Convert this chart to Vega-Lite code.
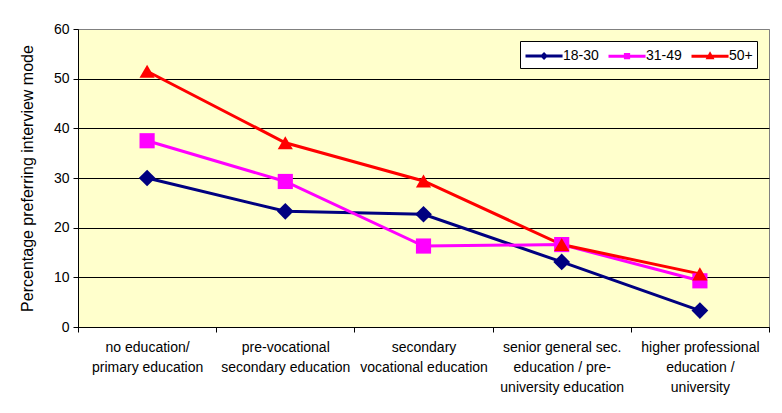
{
  "$schema": "https://vega.github.io/schema/vega-lite/v6.json",
  "width": 691,
  "height": 298,
  "autosize": {"type": "none"},
  "padding": {"left": 78, "top": 29, "right": 13, "bottom": 86},
  "background": "white",
  "config": {
    "font": "Liberation Sans",
    "view": {"fill": "#FFFFCC", "stroke": "#808080", "strokeWidth": 1},
    "axis": {
      "labelFont": "Liberation Sans",
      "titleFont": "Liberation Sans",
      "labelColor": "black",
      "titleColor": "black",
      "domainColor": "black",
      "tickColor": "black",
      "labelFontSize": 14,
      "titleFontSize": 16,
      "titleFontWeight": "normal",
      "tickSize": 5
    },
    "legend": {"labelFont": "Liberation Sans"}
  },
  "data": {
    "values": [
      {"education": "no education/\nprimary education", "age": "18-30", "pct": 30.0},
      {"education": "pre-vocational\nsecondary education", "age": "18-30", "pct": 23.3},
      {"education": "secondary\nvocational education", "age": "18-30", "pct": 22.7},
      {"education": "senior general sec.\neducation / pre-\nuniversity education", "age": "18-30", "pct": 13.1},
      {"education": "higher professional\neducation /\nuniversity", "age": "18-30", "pct": 3.3},
      {"education": "no education/\nprimary education", "age": "31-49", "pct": 37.5},
      {"education": "pre-vocational\nsecondary education", "age": "31-49", "pct": 29.3},
      {"education": "secondary\nvocational education", "age": "31-49", "pct": 16.3},
      {"education": "senior general sec.\neducation / pre-\nuniversity education", "age": "31-49", "pct": 16.6},
      {"education": "higher professional\neducation /\nuniversity", "age": "31-49", "pct": 9.3},
      {"education": "no education/\nprimary education", "age": "50+", "pct": 51.5},
      {"education": "pre-vocational\nsecondary education", "age": "50+", "pct": 37.1},
      {"education": "secondary\nvocational education", "age": "50+", "pct": 29.4},
      {"education": "senior general sec.\neducation / pre-\nuniversity education", "age": "50+", "pct": 16.6},
      {"education": "higher professional\neducation /\nuniversity", "age": "50+", "pct": 10.7}
    ]
  },
  "encoding": {
    "x": {
      "field": "education",
      "type": "nominal",
      "sort": null,
      "bandPosition": 0.5,
      "scale": {"type": "band", "paddingInner": 0, "paddingOuter": 0},
      "axis": {
        "title": null,
        "labelAngle": 0,
        "tickBand": "extent",
        "labelExpr": "split(datum.label, '\\n')",
        "labelLineHeight": 20,
        "labelBaseline": "top",
        "labelPadding": 8,
        "labelOverlap": false,
        "labelBound": false,
        "labelLimit": 0,
        "grid": false
      }
    },
    "y": {
      "field": "pct",
      "type": "quantitative",
      "scale": {"domain": [0, 60], "nice": false},
      "axis": {
        "title": "Percentage preferring interview mode",
        "values": [0, 10, 20, 30, 40, 50, 60],
        "grid": true,
        "gridColor": {"condition": {"test": "datum.value === 60", "value": "#808080"}, "value": "black"},
        "gridOpacity": 1,
        "labelPadding": 4,
        "titlePadding": 18
      }
    }
  },
  "layer": [
    {
      "mark": {"type": "line", "strokeWidth": 3},
      "encoding": {
        "color": {
          "field": "age",
          "type": "nominal",
          "scale": {"domain": ["18-30", "31-49", "50+"], "range": ["#000080", "#FF00FF", "#FF0000"]},
          "legend": {
            "title": null,
            "orient": "top-right",
            "direction": "horizontal",
            "offset": 12,
            "strokeColor": "black",
            "fillColor": "white",
            "padding": 4,
            "symbolSize": 361,
            "symbolStrokeWidth": 3,
            "labelFontSize": 14,
            "labelColor": "black",
            "labelOffset": 17,
            "columnPadding": 3,
            "encode": {
              "symbols": {
                "update": {
                  "shape": {"signal": "datum.value === '18-30' ? 'M-1,0H2.9M0.75,0L0.95,-0.2L1.15,0L0.95,0.2Z' : datum.value === '31-49' ? 'M-1,0H2.9M0.78,-0.17H1.12V0.17H0.78Z' : 'M-1,0H2.9M0.95,-0.22L1.15,0.14H0.75Z'"},
                  "fill": {"signal": "scale('color', datum.value)"},
                  "stroke": {"signal": "scale('color', datum.value)"},
                  "strokeWidth": {"value": 3},
                  "opacity": {"value": 1},
                  "fillOpacity": {"value": 1},
                  "strokeOpacity": {"value": 1}
                }
              }
            }
          }
        }
      }
    },
    {
      "transform": [{"filter": "datum.age === '18-30'"}],
      "mark": {"type": "point", "filled": true, "size": 280, "opacity": 1, "shape": "diamond", "color": "#000080"}
    },
    {
      "transform": [{"filter": "datum.age === '31-49'"}],
      "mark": {"type": "point", "filled": true, "size": 230, "opacity": 1, "shape": "square", "color": "#FF00FF"}
    },
    {
      "transform": [{"filter": "datum.age === '50+'"}],
      "mark": {"type": "point", "filled": true, "size": 230, "opacity": 1, "shape": "triangle-up", "color": "#FF0000"}
    }
  ]
}
